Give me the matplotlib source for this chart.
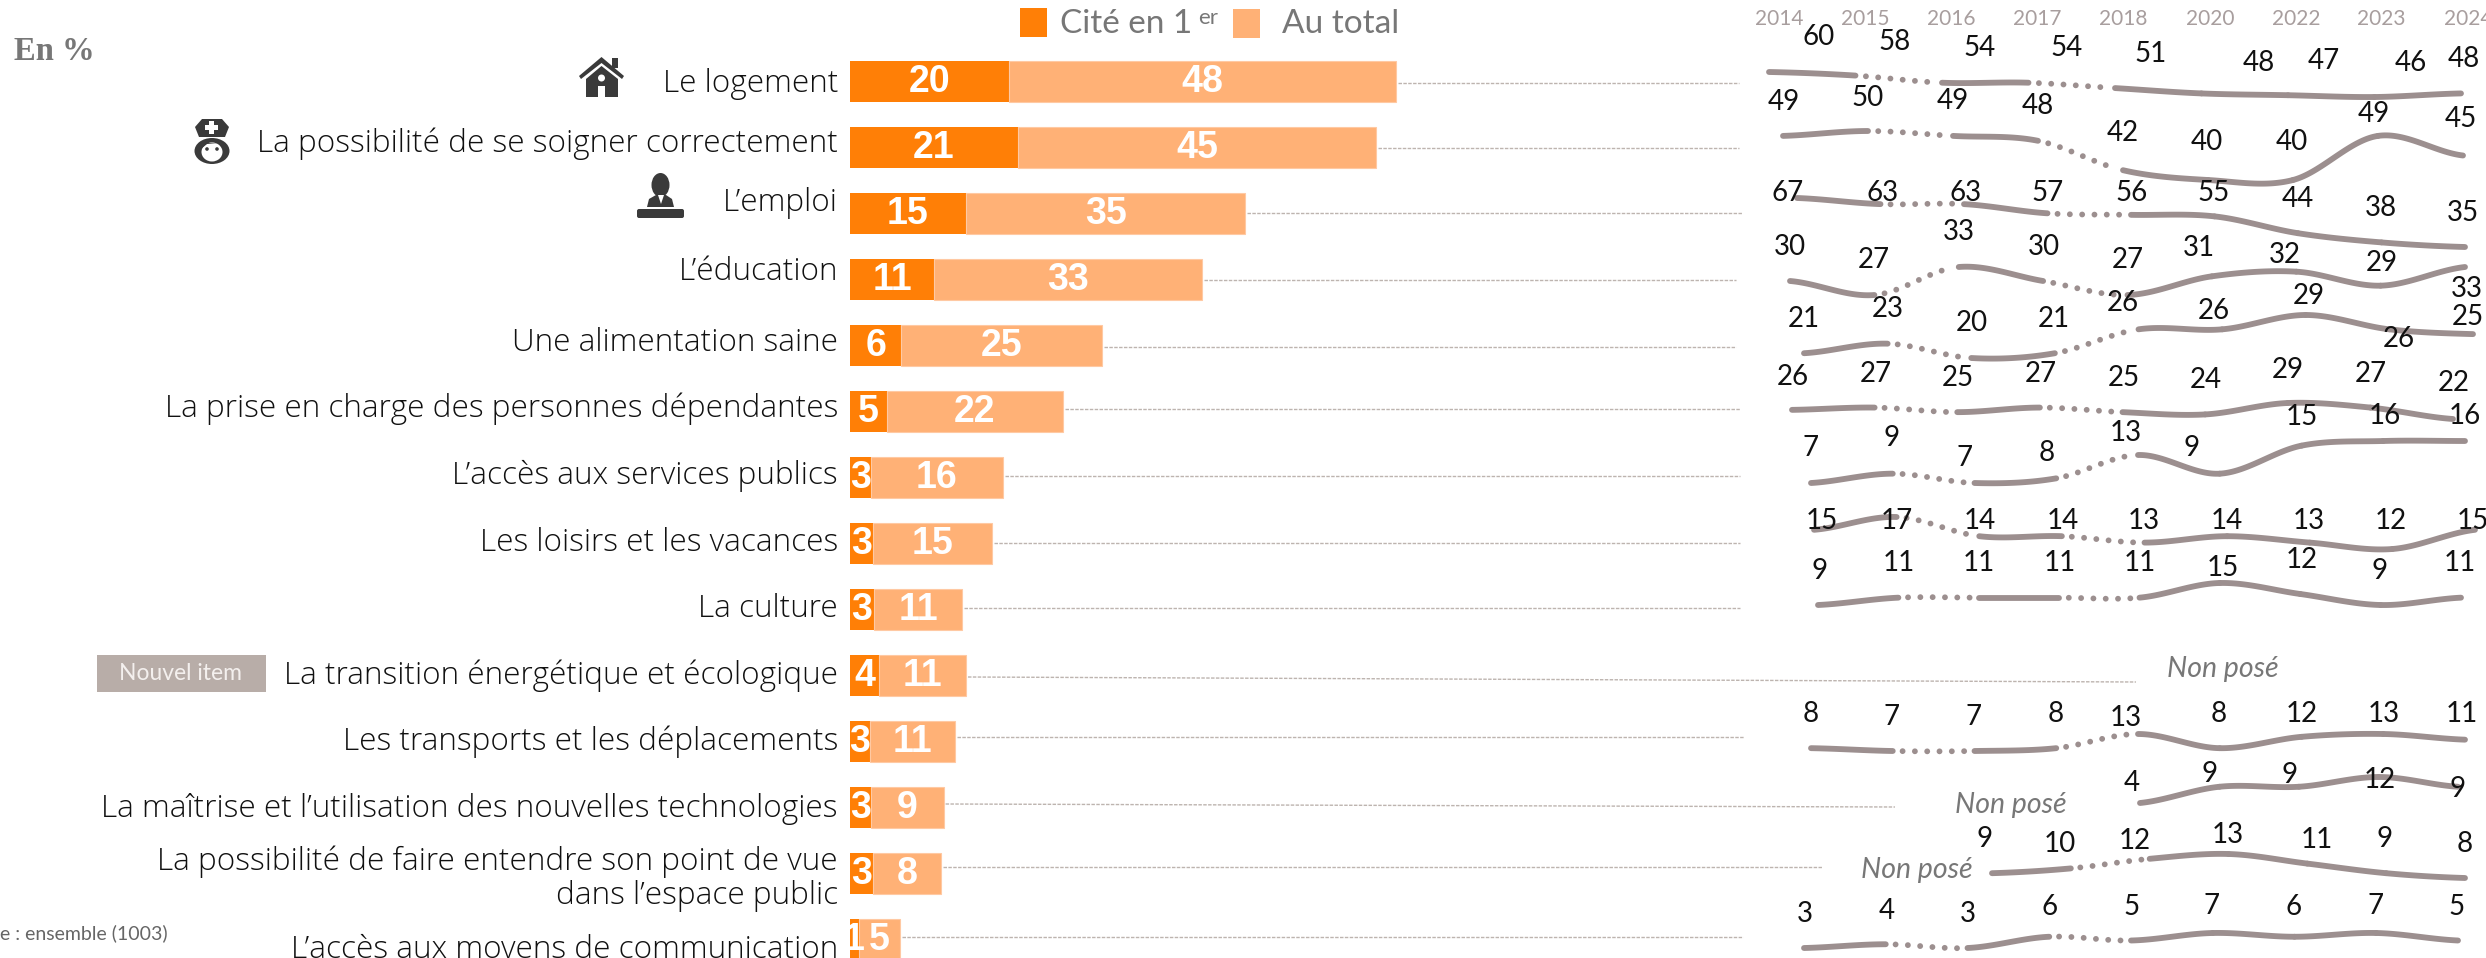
"""Préoccupations des Français : barres empilées + petites courbes 2014-2024."""

import matplotlib
matplotlib.use("Agg")
import matplotlib.pyplot as plt
from matplotlib.patches import Circle, Ellipse, FancyBboxPatch, Polygon, Rectangle
import numpy as np

plt.rcParams["font.family"] = ["Lato", "DejaVu Sans"]

# ── Data ─────────────────────────────────────────────────────────────────────
CATEGORIES = [
    "Le logement",
    "La possibilité de se soigner correctement",
    "L’emploi",
    "L’éducation",
    "Une alimentation saine",
    "La prise en charge des personnes dépendantes",
    "L’accès aux services publics",
    "Les loisirs et les vacances",
    "La culture",
    "La transition énergétique et écologique",
    "Les transports et les déplacements",
    "La maîtrise et l’utilisation des nouvelles technologies",
    "La possibilité de faire entendre son point de vue\ndans l’espace public",
    "L’accès aux moyens de communication",
]
# unrounded estimates, the printed labels are below
CITE_1ER = [19.9, 21.0, 14.5, 10.5, 6.4, 4.6, 2.6, 2.9, 3.0, 3.6, 2.5, 2.6, 2.9, 1.1]
AU_TOTAL = [48.4, 44.8, 34.9, 33.5, 25.1, 22.0, 16.5, 14.8, 11.0, 10.9, 10.6, 9.1, 8.5, 5.1]
CITE_LABELS = [20, 21, 15, 11, 6, 5, 3, 3, 3, 4, 3, 3, 3, 1]
TOTAL_LABELS = [48, 45, 35, 33, 25, 22, 16, 15, 11, 11, 11, 9, 8, 5]

YEARS = [2014, 2015, 2016, 2017, 2018, 2020, 2022, 2023, 2024]
LOGEMENT = [60, 58, 54, 54, 51, 48, 47, 46, 48]
SOIN = [49, 50, 49, 48, 42, 40, 40, 49, 45]
EMPLOI = [67, 63, 63, 57, 56, 55, 44, 38, 35]
EDUCATION = [30, 27, 33, 30, 27, 31, 32, 29, 33]
ALIMENTATION = [21, 23, 20, 21, 26, 26, 29, 26, 25]
DEPENDANCE = [26, 27, 25, 27, 25, 24, 29, 27, 22]
SERVICES = [7, 9, 7, 8, 13, 9, 15, 16, 16]
LOISIRS = [15, 17, 14, 14, 13, 14, 13, 12, 15]
CULTURE = [9, 11, 11, 11, 11, 15, 12, 9, 11]
TRANSITION = [None] * 9
TRANSPORTS = [8, 7, 7, 8, 13, 8, 12, 13, 11]
TECHNOLOGIES = [None, None, None, None, 4, 9, 9, 12, 9]
EXPRESSION = [None, None, 9, 10, 12, 13, 11, 9, 8]
COMMUNICATION = [3, 4, 3, 6, 5, 7, 6, 7, 5]
TRENDS = [
    LOGEMENT, SOIN, EMPLOI, EDUCATION, ALIMENTATION, DEPENDANCE, SERVICES,
    LOISIRS, CULTURE, TRANSITION, TRANSPORTS, TECHNOLOGIES, EXPRESSION, COMMUNICATION,
]
DOTTED_SPANS = [(1, 2), (3, 4)]  # the years that were not surveyed in a row

# ── Layout (pixels of the 2486x958 picture) ──────────────────────────────────
W, H = 2486, 958
BAR_X0 = 850
PX_PER_UNIT = 8.0
ROW_PITCH = 66
ROW0_Y = 81.5
LABEL_RIGHT = 838
LABEL_Y = [84, 144, 203, 272, 343, 409, 476, 543, 609, 676, 742, 809, 879, 950]

GUIDE_Y0 = [83, 148, 213, 280, 347, 409, 476, 543, 608, 677, 737, 804, 867, 937]
GUIDE_Y1 = [83, 148, 213, 280, 347, 409, 476, 543, 608, 682, 737, 807, 867, 937]
GUIDE_END = [1739, 1739, 1742, 1736, 1736, 1740, 1740, 1740, 1740, 2136, 1744, 1895, 1822, 1743]

# first x, last x, y of the row maximum, y of the row minimum
LINE_BOX = [
    (1769, 2461, 72, 97), (1783, 2463, 131, 180), (1797, 2465, 198, 247),
    (1790, 2465, 267, 295), (1804, 2473, 315, 358), (1792, 2453, 403, 419),
    (1811, 2465, 441, 483), (1814, 2475, 517, 549), (1818, 2461, 583, 605),
    None, (1811, 2465, 734, 751), (2140, 2458, 777, 803),
    (1992, 2465, 854, 878), (1804, 2458, 933, 948),
]
YEAR_X = [1779.5, 1865.5, 1951, 2037, 2123, 2210, 2296, 2381, 2468]

# label centres as read in the reference, one line per row
VALUE_XY = [
    [(1819, 37), (1895, 42), (1980, 48), (2067, 48), (2151, 54), (2259, 63), (2324, 61), (2411, 63), (2464, 59)],
    [(1784, 102), (1868, 98), (1953, 101), (2038, 106), (2123, 133), (2207, 142), (2292, 142), (2374, 114), (2461, 119)],
    [(1788, 193), (1883, 193), (1966, 193), (2048, 193), (2132, 193), (2214, 193), (2298, 199), (2381, 208), (2463, 213)],
    [(1790, 247), (1874, 260), (1959, 232), (2044, 247), (2128, 260), (2199, 248), (2285, 255), (2382, 263), (2467, 289)],
    [(1804, 319), (1888, 309), (1972, 323), (2054, 319), (2123, 303), (2214, 311), (2309, 296), (2399, 339), (2468, 317)],
    [(1793, 377), (1876, 374), (1958, 378), (2041, 374), (2124, 378), (2206, 380), (2288, 370), (2371, 374), (2454, 383)],
    [(1811, 448), (1892, 438), (1965, 458), (2047, 453), (2126, 433), (2192, 448), (2302, 417), (2385, 416), (2465, 416)],
    [(1822, 521), (1897, 521), (1980, 521), (2063, 521), (2144, 521), (2227, 521), (2309, 521), (2391, 521), (2473, 521)],
    [(1820, 571), (1899, 563), (1979, 563), (2060, 563), (2140, 563), (2223, 568), (2302, 560), (2380, 571), (2460, 563)],
    [],
    [(1811, 714), (1892, 717), (1974, 717), (2056, 714), (2126, 718), (2219, 714), (2302, 714), (2384, 714), (2462, 714)],
    [(2132, 783), (2210, 774), (2290, 775), (2380, 780), (2458, 789)],
    [(1985, 839), (2060, 844), (2135, 841), (2228, 835), (2317, 840), (2385, 839), (2465, 844)],
    [(1805, 914), (1887, 911), (1968, 914), (2050, 907), (2132, 907), (2212, 906), (2294, 907), (2376, 906), (2457, 907)],
]
NON_POSE_XY = [(2223, 669), (2011, 805), (1917, 870)]

# ── Colours ──────────────────────────────────────────────────────────────────
ORANGE = "#FF7F06"
LIGHT_ORANGE = "#FFB176"
LINE_COLOR = "#9C8F8F"
YEAR_COLOR = "#A89E9E"
GREY_TEXT = "#777777"
GUIDE_COLOR = "#BDB4AF"
ICON_COLOR = "#3A3A3A"


def px_axes(fig, left, right, top, bottom):
    return fig.add_axes([left / W, 1 - bottom / H, (right - left) / W, (bottom - top) / H])


def smooth(xs, ys, t0=0.0, t1=1.0, i=0):
    """Catmull-Rom piece between points i and i+1 (same look as Office smoothed lines)."""
    n = len(xs)
    m0 = (ys[min(i + 1, n - 1)] - ys[max(i - 1, 0)]) / 2
    m1 = (ys[min(i + 2, n - 1)] - ys[i]) / 2
    t = np.linspace(t0, t1, 40)
    y = (
        (2 * t**3 - 3 * t**2 + 1) * ys[i]
        + (t**3 - 2 * t**2 + t) * m0
        + (-2 * t**3 + 3 * t**2) * ys[i + 1]
        + (t**3 - t**2) * m1
    )
    return xs[i] + t * (xs[i + 1] - xs[i]), y


def draw_trend(fig, values, box):
    idx = [i for i, v in enumerate(values) if v is not None]
    vals = [values[i] for i in idx]
    ax = px_axes(fig, box[0], box[1], box[2], box[3])
    ax.set_xlim(idx[0], idx[-1])
    ax.set_ylim(min(vals), max(vals))
    ax.axis("off")
    for k in range(len(idx) - 1):
        dotted = (idx[k], idx[k + 1]) in DOTTED_SPANS
        if dotted:
            x, y = smooth(idx, vals, 0.12, 0.9, k)
            ax.plot(x, y, color=LINE_COLOR, lw=4.2, clip_on=False,
                    linestyle=(0, (0.01, 2.1)), dash_capstyle="round")
        else:
            x, y = smooth(idx, vals, 0.0, 1.0, k)
            ax.plot(x, y, color=LINE_COLOR, lw=4.2, clip_on=False,
                    solid_capstyle="round")


def draw_icons(ov):
    # house
    ov.add_patch(Polygon([(601.5, 57), (624, 76), (622, 79), (601.5, 63), (581, 79), (579, 76)],
                         color=ICON_COLOR, lw=0))
    ov.add_patch(Rectangle((612, 58), 6, 10, color=ICON_COLOR, lw=0))
    ov.add_patch(Polygon([(601.5, 66), (618, 79), (618, 97), (586, 97), (586, 79)],
                         color=ICON_COLOR, lw=0))
    ov.add_patch(Rectangle((598, 86), 7, 11, color="white", lw=0))
    ov.add_patch(Circle((601.5, 78), 3.5, color="white", lw=0))
    # nurse
    ov.add_patch(Polygon([(195, 127), (202, 119), (222, 119), (229, 127), (225, 137), (199, 137)],
                         color=ICON_COLOR, lw=0))
    ov.add_patch(Rectangle((209.5, 121), 5, 13, color="white", lw=0))
    ov.add_patch(Rectangle((205.5, 125), 13, 5, color="white", lw=0))
    ov.add_patch(Ellipse((212, 151), 35, 26, color=ICON_COLOR, lw=0))
    ov.add_patch(Ellipse((212, 152), 21, 19, color="white", lw=0))
    ov.add_patch(Polygon([(201, 149), (207, 144), (218, 143), (223, 149), (223, 143), (201, 143)],
                         color=ICON_COLOR, lw=0))
    ov.add_patch(Circle((207, 149), 1.8, color=ICON_COLOR, lw=0))
    ov.add_patch(Circle((217, 149), 1.8, color=ICON_COLOR, lw=0))
    # man at a desk
    ov.add_patch(Ellipse((660.5, 185), 18, 24, color=ICON_COLOR, lw=0))
    ov.add_patch(Polygon([(647, 207), (649, 199), (656, 195), (666, 195), (672, 199), (674, 207)],
                         color=ICON_COLOR, lw=0))
    ov.add_patch(Polygon([(658, 195), (664, 195), (661, 204)], color="white", lw=0))
    ov.add_patch(FancyBboxPatch((639, 211), 43, 5, boxstyle="round,pad=2",
                                color=ICON_COLOR, lw=0))


fig = plt.figure(figsize=(W / 100, H / 100), dpi=100)

# ── Bars ─────────────────────────────────────────────────────────────────────
top = ROW0_Y - ROW_PITCH / 2
ax = px_axes(fig, BAR_X0, 1740, top, top + ROW_PITCH * len(CATEGORIES))
rows = np.arange(len(CATEGORIES))
first = ax.barh(rows, CITE_1ER, height=0.62, color=ORANGE, linewidth=0)
total = ax.barh(rows, AU_TOTAL, left=CITE_1ER, height=0.62, color=LIGHT_ORANGE,
                edgecolor="#FFC9A3", linewidth=0.8)
label_font = dict(label_type="center", color="white", fontsize=27, fontweight="bold",
                  family=["Liberation Sans"])
ax.bar_label(first, labels=[str(v) for v in CITE_LABELS], **label_font)
ax.bar_label(total, labels=[str(v) for v in TOTAL_LABELS], **label_font)
ax.set_xlim(0, (1740 - BAR_X0) / PX_PER_UNIT)
ax.set_ylim(len(CATEGORIES) - 0.5, -0.5)
ax.axis("off")

# ── Trend lines ──────────────────────────────────────────────────────────────
for values, box in zip(TRENDS, LINE_BOX):
    if box is not None:
        draw_trend(fig, values, box)

# ── Everything placed by hand, in picture pixels ─────────────────────────────
ov = fig.add_axes([0, 0, 1, 1], facecolor="none")
ov.set_xlim(0, W)
ov.set_ylim(H, 0)
ov.axis("off")

for c, t, y0, y1, end in zip(CITE_1ER, AU_TOTAL, GUIDE_Y0, GUIDE_Y1, GUIDE_END):
    start = BAR_X0 + PX_PER_UNIT * (c + t) + 2
    ov.plot([start, end], [y0, y1], color=GUIDE_COLOR, lw=1.0, linestyle=(0, (2.5, 1)))

for name, y in zip(CATEGORIES, LABEL_Y):
    ov.text(LABEL_RIGHT, y, name, ha="right", va="center", fontsize=22.7, color="#111111",
            family=["Open Sans"], fontweight="light", linespacing=1.1, multialignment="right")

for year, x in zip(YEARS, YEAR_X):
    ov.text(x, 18.5, str(year), ha="center", va="center", fontsize=15, color=YEAR_COLOR)

for values, coords in zip(TRENDS, VALUE_XY):
    shown = [v for v in values if v is not None]
    for v, (x, y) in zip(shown, coords):
        ov.text(x, y, str(v), ha="center", va="center", fontsize=20, color="#111111")

for x, y in NON_POSE_XY:
    ov.text(x, y, "Non posé", ha="center", va="center", fontsize=20.5, style="italic",
            color=GREY_TEXT)

# legend
ov.add_patch(Rectangle((1020, 8), 27, 29, color=ORANGE, lw=0))
ov.add_patch(Rectangle((1233, 9), 27, 29, color=LIGHT_ORANGE, lw=0))
ov.text(1060, 24, "Cité en 1", ha="left", va="center", fontsize=24, color=GREY_TEXT)
ov.text(1198, 18, "er", ha="left", va="center", fontsize=16, color=GREY_TEXT)
ov.text(1282, 24, "Au total", ha="left", va="center", fontsize=24, color=GREY_TEXT)

ov.text(14, 51, "En %", ha="left", va="center", fontsize=23.5, fontweight="bold",
        family=["Liberation Serif"], color=GREY_TEXT)

ov.add_patch(Rectangle((97, 655), 169, 37, color="#B8ADA8", lw=0))
ov.text(181, 674, "Nouvel item", ha="center", va="center", fontsize=16.5, color="#F4F0EE")

ov.text(168, 933, "e : ensemble (1003)", ha="right", va="center", fontsize=14, color="#666666")

draw_icons(ov)

fig.savefig("out.png", dpi=100)
plt.close(fig)
